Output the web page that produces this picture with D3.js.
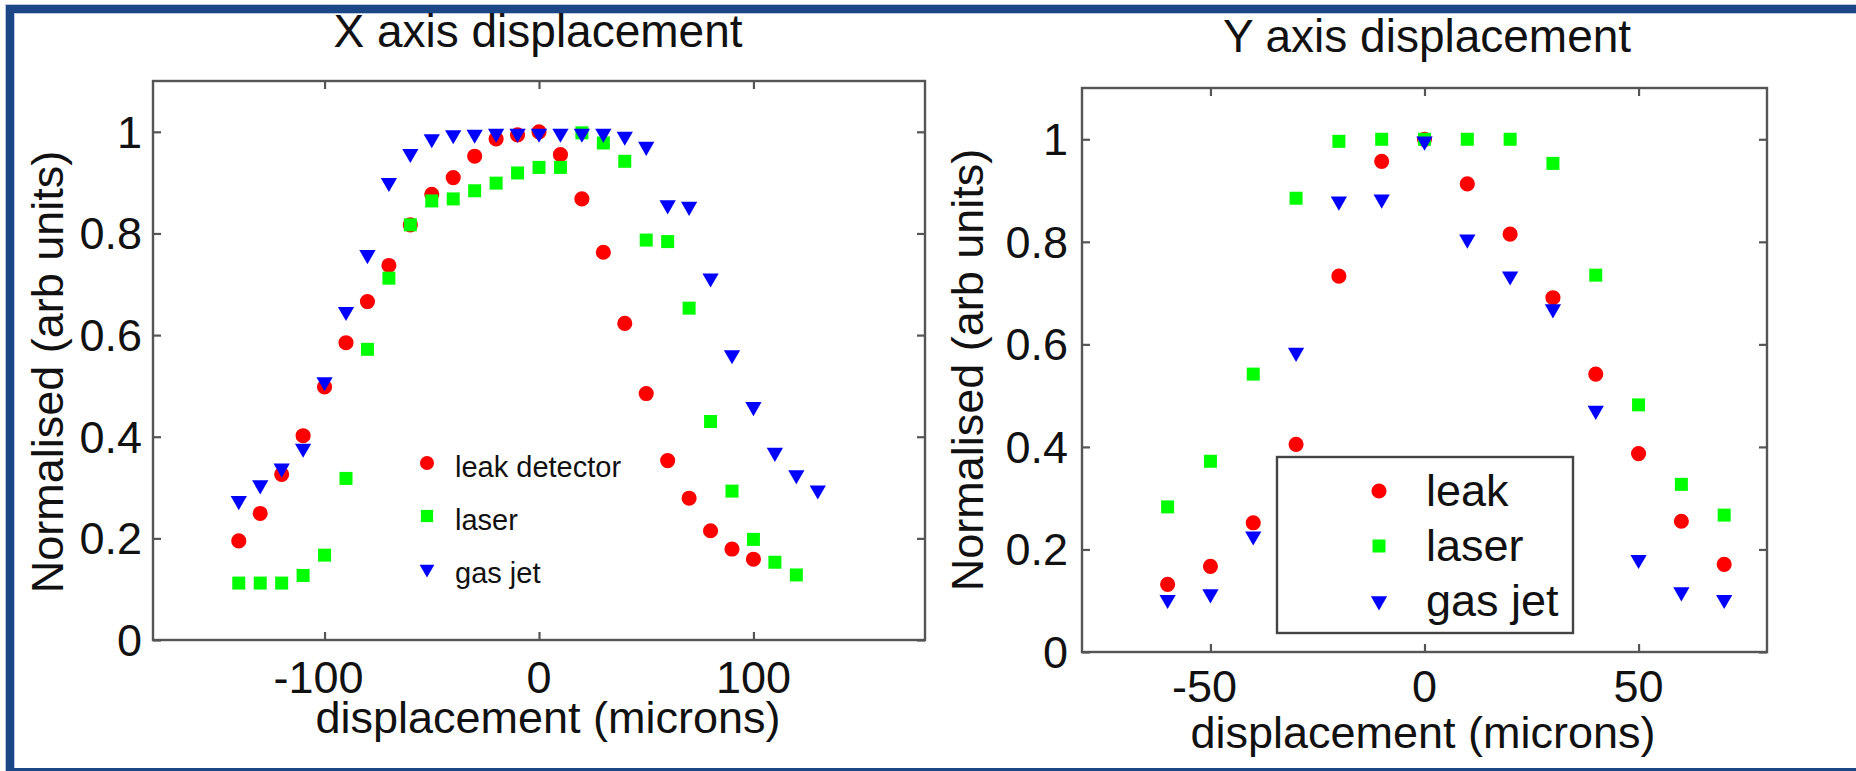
<!DOCTYPE html>
<html>
<head>
<meta charset="utf-8">
<script src="https://cdn.jsdelivr.net/npm/d3@7"></script>
<style>
    html, body { margin: 0; padding: 0; background: #ffffff; }
    svg { display: block; font-family: "Liberation Sans", Arial, sans-serif; }
    .axisLine { fill: none; stroke: #555555; stroke-width: 2.4; }
    .tick line { stroke: #555555; stroke-width: 2.2; }
    .tickLabel { font-size: 45px; fill: #111111; }
</style>
</head>
<body>
<svg id="chart" width="1856" height="771"></svg>
<script>

/*********************
***** CHART DATA *****
*********************/

// X axis displacement (left panel)
const xPosLeak = [-140, -130, -120, -110, -100, -90, -80, -70, -60, -50, -40, -30, -20, -10,
                  0, 10, 20, 30, 40, 50, 60, 70, 80, 90, 100];
const xLeak = [0.195, 0.249, 0.326, 0.402, 0.498, 0.585, 0.666, 0.737, 0.817, 0.877, 0.910, 0.952, 0.986, 0.994,
               1.0, 0.955, 0.868, 0.763, 0.623, 0.485, 0.353, 0.279, 0.215, 0.179, 0.159];

const xPosLaser = [-140, -130, -120, -110, -100, -90, -80, -70, -60, -50, -40, -30, -20, -10,
                   0, 10, 20, 30, 40, 50, 60, 70, 80, 90, 100, 110, 120];
const xLaser = [0.112, 0.112, 0.112, 0.127, 0.167, 0.318, 0.572, 0.712, 0.817, 0.864, 0.868, 0.884, 0.899, 0.919,
                0.930, 0.930, 0.998, 0.978, 0.942, 0.787, 0.784, 0.653, 0.430, 0.293, 0.198, 0.153, 0.128];

const xPosJet = [-140, -130, -120, -110, -100, -90, -80, -70, -60, -50, -40, -30, -20, -10,
                 0, 10, 20, 30, 40, 50, 60, 70, 80, 90, 100, 110, 120, 130];
const xJet = [0.274, 0.305, 0.338, 0.377, 0.508, 0.646, 0.758, 0.900, 0.957, 0.986, 0.994, 0.995, 0.997, 0.997,
              0.997, 0.997, 0.997, 0.997, 0.991, 0.971, 0.856, 0.853, 0.712, 0.561, 0.459, 0.369, 0.325, 0.295];

// Y axis displacement (right panel)
const yPos = [-60, -50, -40, -30, -20, -10, 0, 10, 20, 30, 40, 50, 60, 70];
const yLeak = [0.132, 0.167, 0.252, 0.405, 0.733, 0.957, 1.0, 0.913, 0.815, 0.691, 0.542, 0.387, 0.255, 0.171];
const yLaser = [0.283, 0.372, 0.542, 0.885, 0.996, 1.0, 1.0, 1.0, 1.0, 0.953, 0.735, 0.482, 0.327, 0.267];
const yJet = [0.102, 0.113, 0.226, 0.584, 0.879, 0.883, 0.996, 0.805, 0.733, 0.669, 0.471, 0.180, 0.117, 0.102];

const xTicksLeft = [-100, 0, 100];
const xTicksRight = [-50, 0, 50];
const yTicks = [0, 0.2, 0.4, 0.6, 0.8, 1];

const leftLegendLabels = ["leak detector", "laser", "gas jet"];
const rightLegendLabels = ["leak", "laser", "gas jet"];

/**********************
***** BASIC SETUP *****
**********************/

const FRAME_BLUE = "#1b4786";
const RED = "#ff0000";
const GREEN = "#00ff00";
const BLUE = "#0000ff";

const svg = d3.select("#chart");

// blue slide frame: left, top and bottom bands
svg.append("rect").attr("x", 5).attr("y", 4).attr("width", 1851).attr("height", 10).attr("fill", "#b9c8dc");
svg.append("rect").attr("x", 5).attr("y", 4).attr("width", 10).attr("height", 767).attr("fill", "#b9c8dc");
svg.append("rect").attr("x", 6).attr("y", 5).attr("width", 1850).attr("height", 8).attr("fill", FRAME_BLUE);
svg.append("rect").attr("x", 6).attr("y", 5).attr("width", 8).attr("height", 766).attr("fill", FRAME_BLUE);
svg.append("rect").attr("x", 6).attr("y", 768).attr("width", 1850).attr("height", 3).attr("fill", FRAME_BLUE);

// marker shapes
const circleSym = d3.symbol().type(d3.symbolCircle).size(180);
const squareSym = d3.symbol().type(d3.symbolSquare).size(169);
const triangleSym = d3.symbol().type(d3.symbolTriangle).size(115);

const seriesStyle = [
    {sym: circleSym, color: RED, rotate: 0},
    {sym: squareSym, color: GREEN, rotate: 0},
    {sym: triangleSym, color: BLUE, rotate: 180}
];

// plain hyphen for negatives, like the original figure
var tickText = function(d) {
    return String(d);
}

/***************************
***** PANEL DRAW HELPER *****
***************************/

function drawPanel(p) {

    const x = d3.scaleLinear().domain(p.xDomain).range([p.left, p.right]);
    const y = d3.scaleLinear().domain([0, 1.1]).range([p.bottom, p.top]);

    const g = svg.append("g").attr("class", "panel");

    // title
    g.append("text")
        .attr("x", p.titleX)
        .attr("y", p.titleY)
        .attr("text-anchor", "middle")
        .attr("font-size", 46)
        .attr("fill", "#111")
        .text(p.title);

    // data points, drawn in series order (leak, laser, gas jet)
    p.series.forEach(function(s, i) {
        const st = seriesStyle[i];
        g.selectAll(".pt" + i)
            .data(s.pos.map((d, j) => ({x: d, v: s.vals[j]})))
            .enter()
            .append("path")
            .attr("class", "pt" + i)
            .attr("d", st.sym)
            .attr("fill", st.color)
            .attr("transform", d => `translate(${x(d.x)},${y(d.v)}) rotate(${st.rotate})`);
    });

    // inward ticks on all four sides (matlab box style)
    const axB = g.append("g").attr("transform", `translate(0,${p.bottom})`)
        .call(d3.axisBottom(x).tickValues(p.xTicks).tickSize(-8).tickFormat(""));
    const axT = g.append("g").attr("transform", `translate(0,${p.top})`)
        .call(d3.axisTop(x).tickValues(p.xTicks).tickSize(-8).tickFormat(""));
    const axL = g.append("g").attr("transform", `translate(${p.left},0)`)
        .call(d3.axisLeft(y).tickValues(yTicks).tickSize(-8).tickFormat(""));
    const axR = g.append("g").attr("transform", `translate(${p.right},0)`)
        .call(d3.axisRight(y).tickValues(yTicks).tickSize(-8).tickFormat(""));
    [axB, axT, axL, axR].forEach(a => a.select(".domain").remove());

    // box
    g.append("rect")
        .attr("class", "axisLine")
        .attr("x", p.left)
        .attr("y", p.top)
        .attr("width", p.right - p.left)
        .attr("height", p.bottom - p.top);

    // tick labels
    g.selectAll(".xLab")
        .data(p.xTicks)
        .enter()
        .append("text")
        .attr("class", "tickLabel")
        .attr("x", d => x(d) - (d < 0 ? 6 : 0))
        .attr("y", p.bottom + p.xLabGap)
        .attr("text-anchor", "middle")
        .text(tickText);

    g.selectAll(".yLab")
        .data(yTicks)
        .enter()
        .append("text")
        .attr("class", "tickLabel")
        .attr("x", p.left - p.yLabGap)
        .attr("y", d => y(d) + 16)
        .attr("text-anchor", "end")
        .text(tickText);

    // axis titles
    g.append("text")
        .attr("x", p.xTitleX)
        .attr("y", p.xTitleY)
        .attr("text-anchor", "middle")
        .attr("font-size", 45)
        .attr("fill", "#111")
        .text("displacement (microns)");

    g.append("text")
        .attr("transform", `translate(${p.yTitleX},${p.yTitleY}) rotate(-90)`)
        .attr("text-anchor", "middle")
        .attr("dominant-baseline", "central")
        .attr("font-size", 45)
        .attr("fill", "#111")
        .text("Normalised (arb units)");

    return g;
}

/*********************
***** LEFT PANEL *****
*********************/

drawPanel({
    title: "X axis displacement", titleX: 538, titleY: 47,
    left: 153, right: 925, top: 81, bottom: 640,
    xDomain: [-180, 180], xTicks: xTicksLeft,
    xLabGap: 53, yLabGap: 11,
    xTitleX: 548, xTitleY: 733,
    yTitleX: 47, yTitleY: 372,
    series: [
        {pos: xPosLeak, vals: xLeak},
        {pos: xPosLaser, vals: xLaser},
        {pos: xPosJet, vals: xJet}
    ]
});

// legend without box
const legL = svg.append("g").attr("class", "legendLeft");
const legLSyms = [
    d3.symbol().type(d3.symbolCircle).size(155),
    d3.symbol().type(d3.symbolSquare).size(150),
    d3.symbol().type(d3.symbolTriangle).size(95)
];
leftLegendLabels.forEach(function(label, i) {
    const st = seriesStyle[i];
    const cy = 463 + i * 53;
    legL.append("path")
        .attr("d", legLSyms[i])
        .attr("fill", st.color)
        .attr("transform", `translate(427,${cy}) rotate(${st.rotate})`);
    legL.append("text")
        .attr("x", 455)
        .attr("y", cy + 14)
        .attr("font-size", 29)
        .attr("fill", "#111")
        .text(label);
});

/**********************
***** RIGHT PANEL *****
**********************/

drawPanel({
    title: "Y axis displacement", titleX: 1427, titleY: 52,
    left: 1082, right: 1767, top: 88, bottom: 652,
    xDomain: [-80, 80], xTicks: xTicksRight,
    xLabGap: 50, yLabGap: 14,
    xTitleX: 1423, xTitleY: 748,
    yTitleX: 967, yTitleY: 370,
    series: [
        {pos: yPos, vals: yLeak},
        {pos: yPos, vals: yLaser},
        {pos: yPos, vals: yJet}
    ]
});

// legend with box
const legR = svg.append("g").attr("class", "legendRight");
legR.append("rect")
    .attr("x", 1277)
    .attr("y", 457)
    .attr("width", 296)
    .attr("height", 176)
    .attr("fill", "#ffffff")
    .attr("stroke", "#444444")
    .attr("stroke-width", 2.4);

rightLegendLabels.forEach(function(label, i) {
    const st = seriesStyle[i];
    const cy = 491 + i * 55;
    legR.append("path")
        .attr("d", st.sym)
        .attr("fill", st.color)
        .attr("transform", `translate(1379,${cy}) rotate(${st.rotate})`);
    legR.append("text")
        .attr("x", 1426)
        .attr("y", cy + 15)
        .attr("font-size", 45)
        .attr("fill", "#111")
        .text(label);
});

</script>
</body>
</html>
